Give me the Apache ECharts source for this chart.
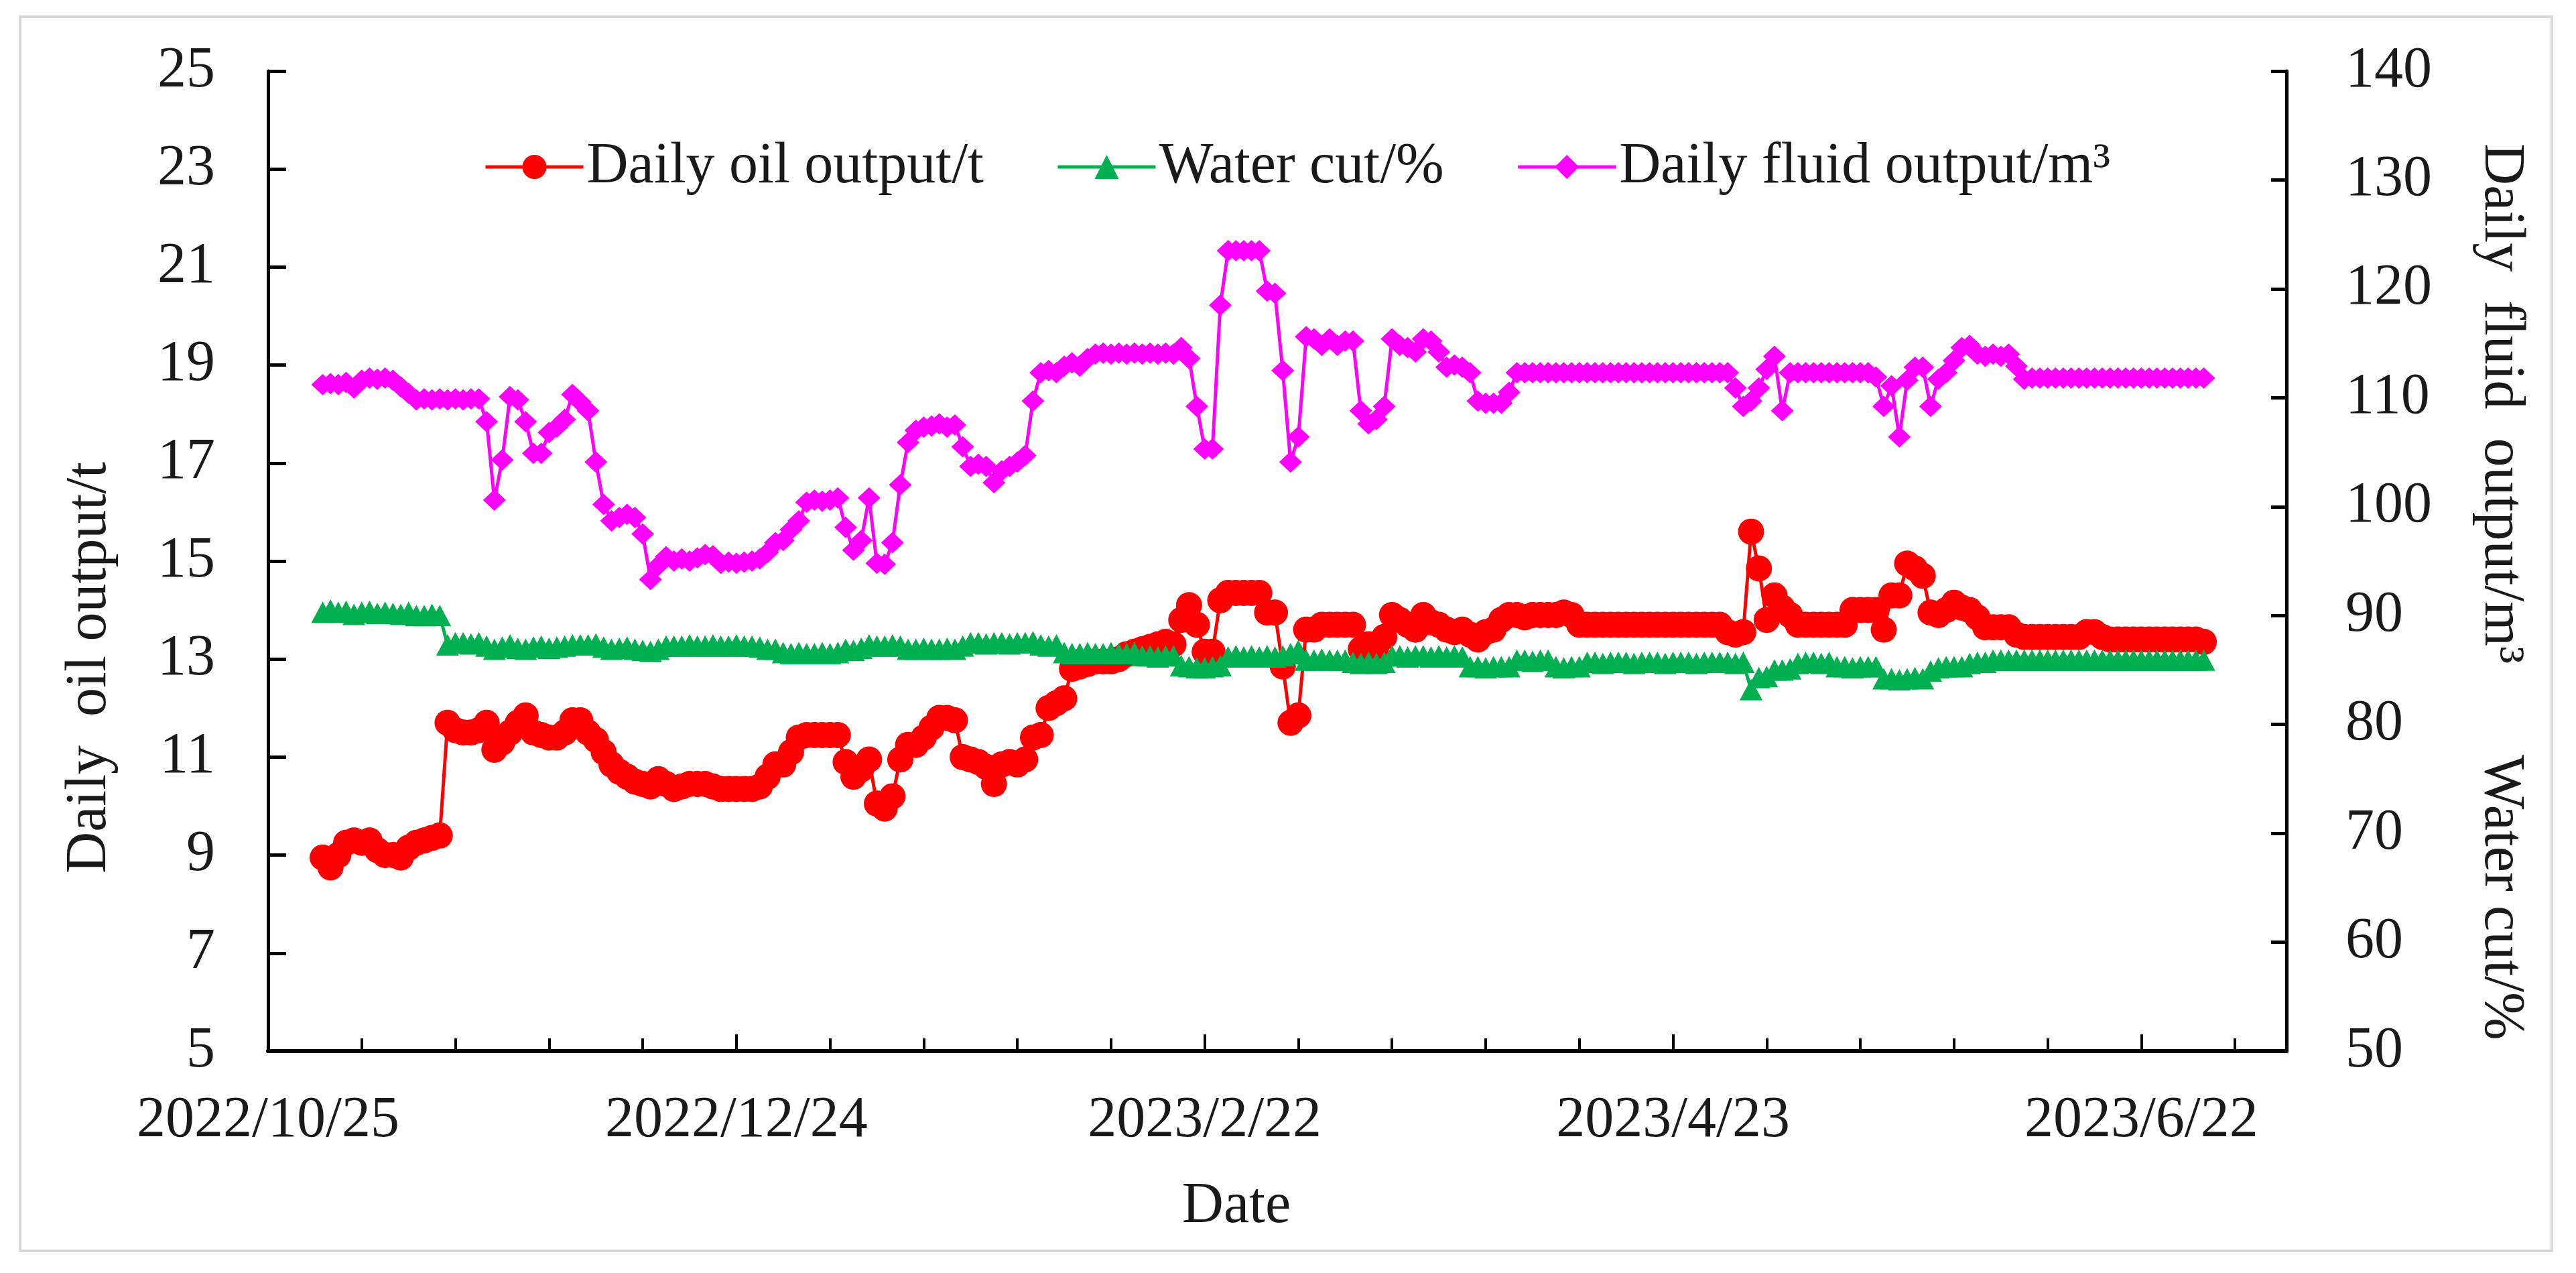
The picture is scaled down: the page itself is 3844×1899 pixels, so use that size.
<!DOCTYPE html>
<html><head><meta charset="utf-8">
<script src="https://cdn.jsdelivr.net/npm/echarts@6/dist/echarts.min.js"></script>
<style>html,body{margin:0;padding:0;background:#fff;}#c{width:3844px;height:1899px;}</style>
</head><body><div id="c"></div>
<script>
const dates = [
'2022/11/1','2022/11/2','2022/11/3','2022/11/4','2022/11/5','2022/11/6','2022/11/7','2022/11/8','2022/11/9','2022/11/10','2022/11/11','2022/11/12','2022/11/13','2022/11/14','2022/11/15','2022/11/16','2022/11/17','2022/11/18','2022/11/19','2022/11/20','2022/11/21','2022/11/22','2022/11/23','2022/11/24','2022/11/25','2022/11/26','2022/11/27','2022/11/28','2022/11/29','2022/11/30',
'2022/12/1','2022/12/2','2022/12/3','2022/12/4','2022/12/5','2022/12/6','2022/12/7','2022/12/8','2022/12/9','2022/12/10','2022/12/11','2022/12/12','2022/12/13','2022/12/14','2022/12/15','2022/12/16','2022/12/17','2022/12/18','2022/12/19','2022/12/20','2022/12/21','2022/12/22','2022/12/23','2022/12/24','2022/12/25','2022/12/26','2022/12/27','2022/12/28','2022/12/29','2022/12/30','2022/12/31',
'2023/1/1','2023/1/2','2023/1/3','2023/1/4','2023/1/5','2023/1/6','2023/1/7','2023/1/8','2023/1/9','2023/1/10','2023/1/11','2023/1/12','2023/1/13','2023/1/14','2023/1/15','2023/1/16','2023/1/17','2023/1/18','2023/1/19','2023/1/20','2023/1/21','2023/1/22','2023/1/23','2023/1/24','2023/1/25','2023/1/26','2023/1/27','2023/1/28','2023/1/29','2023/1/30','2023/1/31',
'2023/2/1','2023/2/2','2023/2/3','2023/2/4','2023/2/5','2023/2/6','2023/2/7','2023/2/8','2023/2/9','2023/2/10','2023/2/11','2023/2/12','2023/2/13','2023/2/14','2023/2/15','2023/2/16','2023/2/17','2023/2/18','2023/2/19','2023/2/20','2023/2/21','2023/2/22','2023/2/23','2023/2/24','2023/2/25','2023/2/26','2023/2/27','2023/2/28',
'2023/3/1','2023/3/2','2023/3/3','2023/3/4','2023/3/5','2023/3/6','2023/3/7','2023/3/8','2023/3/9','2023/3/10','2023/3/11','2023/3/12','2023/3/13','2023/3/14','2023/3/15','2023/3/16','2023/3/17','2023/3/18','2023/3/19','2023/3/20','2023/3/21','2023/3/22','2023/3/23','2023/3/24','2023/3/25','2023/3/26','2023/3/27','2023/3/28','2023/3/29','2023/3/30','2023/3/31',
'2023/4/1','2023/4/2','2023/4/3','2023/4/4','2023/4/5','2023/4/6','2023/4/7','2023/4/8','2023/4/9','2023/4/10','2023/4/11','2023/4/12','2023/4/13','2023/4/14','2023/4/15','2023/4/16','2023/4/17','2023/4/18','2023/4/19','2023/4/20','2023/4/21','2023/4/22','2023/4/23','2023/4/24','2023/4/25','2023/4/26','2023/4/27','2023/4/28','2023/4/29','2023/4/30',
'2023/5/1','2023/5/2','2023/5/3','2023/5/4','2023/5/5','2023/5/6','2023/5/7','2023/5/8','2023/5/9','2023/5/10','2023/5/11','2023/5/12','2023/5/13','2023/5/14','2023/5/15','2023/5/16','2023/5/17','2023/5/18','2023/5/19','2023/5/20','2023/5/21','2023/5/22','2023/5/23','2023/5/24','2023/5/25','2023/5/26','2023/5/27','2023/5/28','2023/5/29','2023/5/30','2023/5/31',
'2023/6/1','2023/6/2','2023/6/3','2023/6/4','2023/6/5','2023/6/6','2023/6/7','2023/6/8','2023/6/9','2023/6/10','2023/6/11','2023/6/12','2023/6/13','2023/6/14','2023/6/15','2023/6/16','2023/6/17','2023/6/18','2023/6/19','2023/6/20','2023/6/21','2023/6/22','2023/6/23','2023/6/24','2023/6/25','2023/6/26','2023/6/27','2023/6/28','2023/6/29','2023/6/30'
];

const oilOutput = [
// Nov
8.95,8.75,9.0,9.25,9.3,9.25,9.3,9.1,9.0,9.0,
8.95,9.15,9.25,9.3,9.35,9.4,11.7,11.55,11.5,11.5,
11.55,11.7,11.15,11.3,11.5,11.7,11.85,11.5,11.45,11.4,
// Dec
11.4,11.5,11.75,11.75,11.5,11.35,11.1,10.85,10.7,10.6,
10.5,10.45,10.4,10.55,10.45,10.35,10.4,10.45,10.45,10.45,
10.4,10.35,10.35,10.35,10.35,10.35,10.4,10.6,10.85,10.85,
11.1,
// Jan
11.4,11.45,11.45,11.45,11.45,11.45,10.9,10.6,10.75,10.95,
10.05,9.95,10.2,10.95,11.25,11.25,11.4,11.6,11.8,11.8,
11.75,11.0,10.95,10.9,10.8,10.45,10.85,10.9,10.85,10.95,
11.4,
// Feb
11.45,12.0,12.1,12.2,12.8,12.85,12.9,12.95,12.95,12.95,
13.0,13.1,13.15,13.2,13.25,13.3,13.35,13.3,13.8,14.1,
13.7,13.15,13.15,14.2,14.35,14.35,14.35,14.35,
// Mar
14.35,13.95,13.95,12.85,11.7,11.85,13.6,13.6,13.7,13.7,
13.7,13.7,13.7,13.2,13.3,13.25,13.45,13.9,13.8,13.7,
13.6,13.9,13.75,13.7,13.6,13.55,13.6,13.5,13.4,13.55,
13.6,
// Apr
13.8,13.9,13.9,13.85,13.9,13.9,13.9,13.9,13.95,13.9,
13.7,13.7,13.7,13.7,13.7,13.7,13.7,13.7,13.7,13.7,
13.7,13.7,13.7,13.7,13.7,13.7,13.7,13.7,13.7,13.55,
// May
13.5,13.55,15.6,14.85,13.8,14.3,14.05,13.9,13.7,13.7,
13.7,13.7,13.7,13.7,13.7,14.0,14.0,14.0,14.0,13.6,
14.3,14.3,14.95,14.85,14.7,13.95,13.9,14.0,14.15,14.05,
14.0,
// Jun
13.85,13.65,13.65,13.65,13.65,13.5,13.45,13.45,13.45,13.45,
13.45,13.45,13.45,13.45,13.55,13.55,13.45,13.4,13.4,13.4,
13.4,13.4,13.4,13.4,13.4,13.4,13.4,13.4,13.4,13.35
];

const waterCut = [
// Nov
90.3,90.5,90.3,90.4,90.1,90.3,90.4,90.2,90.3,90.2,
90.1,90.3,90.0,90.0,90.1,90.0,87.3,87.5,87.5,87.4,
87.5,87.2,86.9,87.1,87.3,87.0,86.9,87.1,87.2,87.0,
// Dec
87.1,87.2,87.3,87.3,87.3,87.4,87.1,86.9,87.0,87.1,
86.9,86.8,86.7,86.9,87.2,87.2,87.2,87.3,87.2,87.2,
87.3,87.2,87.2,87.3,87.2,87.2,87.1,86.9,86.9,86.6,
86.5,
// Jan
86.6,86.5,86.5,86.6,86.5,86.6,86.9,86.8,87.0,87.3,
87.2,87.2,87.3,87.2,86.9,86.9,87.0,86.9,86.9,87.0,
86.9,87.2,87.5,87.5,87.4,87.5,87.5,87.4,87.5,87.5,
87.6,
// Feb
87.3,87.2,87.3,86.6,86.5,86.5,86.6,86.5,86.5,86.6,
86.5,86.5,86.6,86.3,86.3,86.2,86.3,86.3,85.4,85.3,
85.2,85.2,85.3,85.4,86.2,86.3,86.2,86.3,
// Mar
86.2,86.3,86.2,86.3,86.5,86.8,85.9,85.9,86.0,85.9,
85.9,85.9,85.7,85.6,85.7,85.6,85.7,86.3,86.3,86.2,
86.3,86.3,86.2,86.3,86.2,86.3,86.2,85.3,85.3,85.2,
85.3,
// Apr
85.3,85.3,85.9,85.9,85.8,85.9,85.9,85.3,85.2,85.3,
85.3,85.7,85.7,85.6,85.7,85.7,85.7,85.6,85.7,85.7,
85.7,85.6,85.7,85.7,85.7,85.6,85.7,85.7,85.7,85.7,
// May
85.6,85.7,83.2,84.3,84.4,85.0,85.0,85.1,85.6,85.7,
85.7,85.6,85.7,85.3,85.3,85.2,85.3,85.3,85.3,84.2,
84.2,84.1,84.2,84.3,84.2,84.9,85.2,85.3,85.3,85.3,
85.6,
// Jun
85.7,85.7,85.9,85.9,85.9,85.9,85.9,85.9,85.9,85.9,
85.9,85.9,85.9,85.9,85.9,85.9,85.9,85.9,85.9,85.9,
85.9,85.9,85.9,85.9,85.9,85.9,85.9,85.9,85.9,85.9
];

const fluidOutput = [
// Nov
111.2,111.3,111.2,111.4,110.9,111.6,111.8,111.7,111.8,111.6,
111.0,110.4,109.8,109.9,109.8,109.9,109.8,109.9,109.8,109.9,
109.9,107.8,100.6,104.3,110.1,109.8,107.8,104.9,104.9,106.8,
// Dec
107.3,108.0,110.3,109.6,108.8,104.1,100.2,98.7,99.0,99.3,
99.0,97.5,93.3,94.6,95.4,95.0,95.2,95.0,95.3,95.6,
95.5,94.8,94.9,94.8,94.9,95.0,95.2,95.8,96.7,96.9,
97.9,
// Jan
98.7,100.4,100.6,100.5,100.6,100.8,98.1,96.0,96.9,100.8,
94.8,94.7,96.7,102.0,105.9,107.0,107.3,107.4,107.6,107.3,
107.5,105.5,103.7,103.9,103.7,102.2,103.3,103.7,104.1,104.7,
109.7,
// Feb
112.3,112.5,112.3,112.9,113.2,112.9,113.6,114.0,114.1,114.0,
114.1,114.0,114.1,114.0,114.1,114.0,114.1,114.0,114.6,113.6,
109.2,105.3,105.3,118.5,123.5,123.5,123.5,123.5,
// Mar
123.5,119.8,119.6,112.5,104.1,106.4,115.6,115.4,114.8,115.4,
114.8,115.2,115.2,108.8,107.6,108.0,109.2,115.4,114.8,114.6,
114.2,115.4,115.2,114.2,112.8,113.0,112.8,112.3,109.7,109.5,
109.5,
// Apr
109.5,110.5,112.3,112.3,112.3,112.3,112.3,112.3,112.3,112.3,
112.3,112.3,112.3,112.3,112.3,112.3,112.3,112.3,112.3,112.3,
112.3,112.3,112.3,112.3,112.3,112.3,112.3,112.3,112.3,112.3,
// May
110.9,109.2,109.7,110.9,112.6,113.8,108.8,112.3,112.3,112.3,
112.3,112.3,112.3,112.3,112.3,112.3,112.3,112.3,111.9,109.2,
111.1,106.4,111.6,112.8,112.8,109.2,111.7,112.3,113.4,114.6,
114.8,
// Jun
114.0,113.8,114.0,113.8,114.0,112.9,111.7,111.8,111.8,111.8,
111.8,111.8,111.8,111.8,111.8,111.8,111.8,111.8,111.8,111.8,
111.8,111.8,111.8,111.8,111.8,111.8,111.8,111.8,111.8,111.8
];

const seriesNames = ['Daily oil output/t', 'Water cut/%', 'Daily fluid output/m³'];
const xTickLabels = ['2022/10/25', '2022/12/24', '2023/2/22', '2023/4/23', '2023/6/22'];
const xMinorTickDates = ['2022/11/6','2022/11/18','2022/11/30','2022/12/12','2023/1/5','2023/1/17','2023/1/29','2023/2/10','2023/3/6','2023/3/18','2023/3/30','2023/4/11','2023/5/5','2023/5/17','2023/5/29','2023/6/10','2023/7/4'];
const leftTicks = [5, 7, 9, 11, 13, 15, 17, 19, 21, 23, 25];
const rightTicks = [50, 60, 70, 80, 90, 100, 110, 120, 130, 140];

function toUTC(s) { const p = s.split('/').map(Number); return Date.UTC(p[0], p[1] - 1, p[2]); }
const origin = toUTC(xTickLabels[0]);
function dayOf(s) { return Math.round((toUTC(s) - origin) / 86400000); }
const xs = dates.map(dayOf);
const xTickValues = xTickLabels.map(dayOf);
const xMinorValues = xMinorTickDates.map(dayOf);
const pair = arr => arr.map((v, i) => [xs[i], v]);

const FONT = '"Liberation Serif", "Times New Roman", serif';
const TXT = '#1a1a1a';
const X_MAX = 258.6;

const chart = echarts.init(document.getElementById('c'), null, {renderer: 'canvas'});
chart.setOption({
  animation: false,
  backgroundColor: '#ffffff',
  grid: {left: 400, right: 432, top: 106, bottom: 331, containLabel: false, outerBoundsMode: 'none'},
  legend: {
    left: 717, top: 201, itemWidth: 146, itemHeight: 45, itemGap: 108,
    data: seriesNames,
    lineStyle: {width: 5},
    textStyle: {fontFamily: FONT, fontSize: 86, color: TXT, lineHeight: 86}
  },
  xAxis: [{
    type: 'value', min: 0, max: X_MAX, position: 'bottom',
    axisLine: {show: true, onZero: false, lineStyle: {color: '#000', width: 6}},
    axisTick: {show: true, inside: true, length: 25, customValues: xTickValues, lineStyle: {color: '#000', width: 4}},
    axisLabel: {show: true, customValues: xTickValues, margin: 61, fontFamily: FONT, fontSize: 86, color: TXT, lineHeight: 86,
      formatter: v => { const i = xTickValues.indexOf(Math.round(v)); return i >= 0 ? xTickLabels[i] : ''; }},
    splitLine: {show: false}
  }, {
    type: 'value', min: 0, max: X_MAX, position: 'bottom',
    axisLine: {show: false},
    axisTick: {show: true, inside: true, length: 19, customValues: xMinorValues, lineStyle: {color: '#000', width: 4}},
    axisLabel: {show: false},
    splitLine: {show: false}
  }],
  yAxis: [{
    type: 'value', min: 5, max: 25, position: 'left',
    axisLine: {show: true, onZero: false, lineStyle: {color: '#000', width: 5}},
    axisTick: {show: true, inside: true, length: 27, customValues: leftTicks, lineStyle: {color: '#000', width: 5}},
    axisLabel: {show: true, customValues: leftTicks, margin: 79, fontFamily: FONT, fontSize: 86, color: TXT},
    splitLine: {show: false}
  }, {
    type: 'value', min: 50, max: 140, interval: 10, position: 'right',
    axisLine: {show: true, onZero: false, lineStyle: {color: '#000', width: 5}},
    axisTick: {show: true, inside: true, length: 23, customValues: rightTicks, lineStyle: {color: '#000', width: 5}},
    axisLabel: {show: true, customValues: rightTicks, margin: 88, fontFamily: FONT, fontSize: 86, color: TXT},
    splitLine: {show: false}
  }],
  series: [{
    name: seriesNames[0], type: 'line', xAxisIndex: 0, yAxisIndex: 0, data: pair(oilOutput),
    symbol: 'circle', symbolSize: 39, z: 2,
    lineStyle: {color: '#ff0000', width: 5}, itemStyle: {color: '#ff0000'}
  }, {
    name: seriesNames[1], type: 'line', xAxisIndex: 0, yAxisIndex: 1, data: pair(waterCut),
    symbol: 'triangle', symbolSize: [34, 32], z: 3,
    lineStyle: {color: '#00b050', width: 5}, itemStyle: {color: '#00b050'}
  }, {
    name: seriesNames[2], type: 'line', xAxisIndex: 0, yAxisIndex: 1, data: pair(fluidOutput),
    symbol: 'diamond', symbolSize: [34, 32], z: 4,
    lineStyle: {color: '#ff00ff', width: 5}, itemStyle: {color: '#ff00ff'}
  }],
  graphic: [
    {type: 'rect', shape: {x: 30, y: 25, width: 3778, height: 1841}, style: {fill: 'none', stroke: '#d9d9d9', lineWidth: 4}, silent: true, z: 0},
    {type: 'text', x: 134, y: 996, rotation: Math.PI / 2, style: {text: 'Daily  oil output/t', font: '86px ' + FONT, fill: TXT, textAlign: 'center', textVerticalAlign: 'middle'}},
    {type: 'text', x: 3732, y: 602, rotation: -Math.PI / 2, style: {text: 'Daily  fluid  output/m³', font: '86px ' + FONT, fill: TXT, textAlign: 'center', textVerticalAlign: 'middle'}},
    {type: 'text', x: 3732, y: 1339, rotation: -Math.PI / 2, style: {text: 'Water cut/%', font: '86px ' + FONT, fill: TXT, textAlign: 'center', textVerticalAlign: 'middle'}},
    {type: 'text', x: 1845, y: 1800, style: {text: 'Date', font: '86px ' + FONT, fill: TXT, textAlign: 'center', textVerticalAlign: 'middle'}}
  ]
});
</script>
</body></html>
